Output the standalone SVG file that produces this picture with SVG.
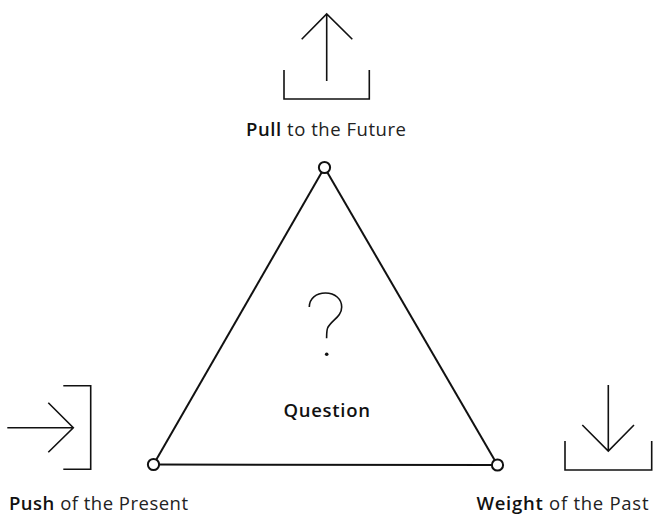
<svg xmlns="http://www.w3.org/2000/svg" width="653" height="518" viewBox="0 0 653 518">
  <style>
    .ln { fill: none; stroke: #111; stroke-width: 2; stroke-linecap: butt; stroke-linejoin: miter; }
    .icon { fill: none; stroke: #111; stroke-width: 1.6; }
    .node { fill: #fff; stroke: #111; stroke-width: 2; }
    .lbl { font-family: "Open Sans", "Liberation Sans", sans-serif; font-size: 18.5px; fill: #222; }
    .b { font-weight: 600; fill: #111; }
  </style>

  <!-- triangle edges -->
  <g id="connectors">
    <line class="ln" x1="324.5" y1="167.5" x2="153.5" y2="464.5"/>
    <line class="ln" x1="324.5" y1="167.5" x2="497.5" y2="465"/>
    <line class="ln" x1="153.5" y1="464.5" x2="497.5" y2="465"/>
  </g>

  <!-- vertex: future -->
  <g id="node-future">
    <circle class="node" cx="324.5" cy="167.5" r="5.6"/>
    <path class="icon" d="M284,70 V99 H369.3 V70"/>
    <path class="icon" d="M326.7,81 V14 M301.7,39.3 L326.7,14 L352.3,39.3"/>
    <text class="lbl" x="246" y="136" textLength="160" lengthAdjust="spacing"><tspan class="b">Pull</tspan> to the Future</text>
  </g>

  <!-- vertex: present -->
  <g id="node-present">
    <circle class="node" cx="153.5" cy="464.5" r="5.6"/>
    <path class="icon" d="M63.3,385.7 H90.7 V469.3 H63.3"/>
    <path class="icon" d="M7.3,427.7 H73.3 M48.3,402.7 L73.3,427.7 L48.3,452.3"/>
    <text class="lbl" x="9" y="509.5" textLength="179" lengthAdjust="spacing"><tspan class="b">Push</tspan> of the Present</text>
  </g>

  <!-- vertex: past -->
  <g id="node-past">
    <circle class="node" cx="497.5" cy="465" r="5.6"/>
    <path class="icon" d="M565,441 V470 H651.7 V441"/>
    <path class="icon" d="M608.3,385 V451 M582.3,425 L608.3,451 L634,425"/>
    <text class="lbl" x="476.5" y="509.5" textLength="172" lengthAdjust="spacing"><tspan class="b">Weight</tspan> of the Past</text>
  </g>

  <!-- centre: question -->
  <g id="node-question">
    <path class="icon" stroke-width="1.4" d="M309.3,307 C309.3,298.5 316,293 325.5,293 C335,293 341.7,299 341.7,307 C341.7,316.5 332,320 327.8,327.5 C326.8,329.5 326.6,332 326.6,338.3"/>
    <circle cx="326.7" cy="354.3" r="1.8" fill="#111"/>
    <text class="lbl b" x="283.5" y="417" textLength="86.5" lengthAdjust="spacing">Question</text>
  </g>
</svg>
